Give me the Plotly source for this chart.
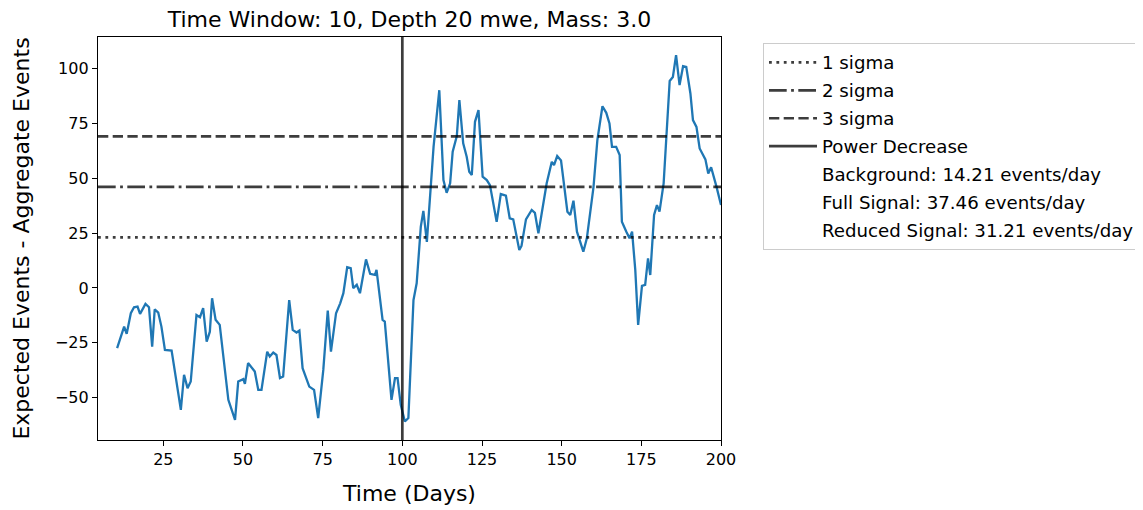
import plotly.graph_objects as go

# ---- data ----
days = [10.5, 11.9, 12.7, 13.5, 14.8, 15.8, 16.9, 17.7, 19.4, 20.5, 21.5, 22.3, 23.4, 24.4,
        25.5, 27.6, 30.5, 31.5, 32.6, 33.6, 35.4, 36.5, 37.5, 38.6, 39.6, 40.3, 41.4, 42.7,
        45.4, 47.5, 48.5, 50.1, 50.6, 51.6, 53.7, 54.8, 55.8, 57.6, 58.4, 59.5, 60.5, 61.6,
        62.6, 64.5, 65.6, 66.8, 67.7, 68.7, 70.8, 72.3, 73.6, 75.2, 76.6, 77.6, 79.2, 80.5,
        81.5, 82.7, 83.8, 84.6, 85.7, 86.7, 87.6, 88.6, 89.9, 91.4, 91.9, 93.8, 94.5, 96.6,
        97.7, 98.5, 99.5, 100.8, 101.9, 103.5, 104.5, 105.8, 106.6, 107.7, 109.8, 111.6,
        112.9, 113.9, 115.0, 115.8, 117.1, 117.9, 119.1, 120.2, 121.0, 121.8, 122.8, 123.9,
        125.2, 126.5, 127.5, 129.6, 130.9, 132.5, 133.7, 134.8, 136.7, 137.4, 138.8, 140.6,
        141.6, 142.7, 145.3, 146.9, 147.6, 148.6, 149.8, 150.6, 151.8, 152.7, 153.7, 154.8,
        156.8, 157.9, 160.0, 161.2, 162.8, 164.0, 165.0, 165.8, 167.1, 168.2, 168.9, 170.3,
        171.3, 172.1, 173.1, 174.0, 175.2, 176.2, 177.1, 177.8, 179.0, 179.9, 180.7, 182.0,
        183.0, 183.9, 184.9, 185.9, 187.0, 188.1, 189.1, 190.4, 191.2, 192.3, 193.3, 195.1,
        196.0, 196.9, 198.6, 200.0]
diff_events = [-27.4, -20.6, -17.6, -20.9, -11.5, -8.8, -8.5, -11.8, -7.3, -8.8, -26.7, -9.7,
               -11.2, -17.6, -28.2, -28.5, -55.5, -39.5, -45.6, -42.6, -12.3, -13.3, -9.2,
               -24.4, -19.9, -4.7, -14.5, -16.8, -50.9, -60.0, -42.6, -41.5, -43.6, -34.2,
               -38.0, -46.4, -46.4, -29.0, -31.2, -29.4, -30.5, -41.0, -40.3, -5.5, -19.1,
               -20.3, -19.4, -36.5, -44.9, -46.4, -59.2, -37.3, -10.3, -29.0, -11.5, -7.0,
               -2.4, 9.4, 9.0, -0.1, 1.4, -2.4, 5.9, 13.0, 6.4, 5.9, 8.2, -14.5, -15.3, -50.9,
               -41.0, -41.0, -53.2, -60.8, -59.2, -5.5, 2.1, 27.9, 35.1, 21.0, 64.2, 90.0,
               49.1, 43.3, 47.6, 62.0, 69.1, 85.5, 65.8, 59.7, 52.9, 51.4, 75.6, 80.9,
               50.6, 49.1, 46.8, 30.1, 42.7, 42.0, 31.7, 31.2, 17.3, 19.1, 31.2, 35.5,
               34.2, 24.9, 47.6, 57.4, 55.9, 60.0, 58.0, 47.6, 34.7, 33.2, 39.7, 25.6,
               16.5, 22.6, 46.0, 67.3, 82.7, 79.7, 74.9, 64.2, 64.2, 60.5, 30.1, 25.6,
               22.6, 25.6, 8.2, -16.8, 0.9, 1.4, 13.5, 5.9, 33.2, 37.7, 34.7, 47.6,
               73.3, 94.2, 96.0, 105.9, 92.3, 100.9, 100.6, 88.5, 76.4, 73.3, 63.5, 58.5,
               52.1, 54.9, 46.0, 37.7]

sigma_names = ["1 sigma", "2 sigma", "3 sigma"]
sigma_levels = [23.0, 46.0, 69.0]
power_decrease_day = 100
info_labels = ["Background: 14.21 events/day",
               "Full Signal: 37.46 events/day",
               "Reduced Signal: 31.21 events/day"]
x_ticks = [25, 50, 75, 100, 125, 150, 175, 200]
y_ticks = [-50, -25, 0, 25, 50, 75, 100]

X_RANGE = [4.5, 200]
Y_RANGE = [-69.2, 114.2]

FONT = "DejaVu Sans"
GREY = "rgba(0,0,0,0.76)"
dashes = ["2.8px,4.6px", "17.7px,4.4px,2.8px,4.4px", "10.3px,4.4px"]

# the page body adds an 8px margin, so the figure is sized/offset to compensate
W, H = 1135, 502
L, R, T, B = 90, 713, 29, 432

fig = go.Figure()

fig.add_trace(go.Scatter(x=days, y=diff_events, mode="lines",
                         line=dict(color="#1f77b4", width=2.3),
                         showlegend=False, hoverinfo="x+y"))

for i, (name, lvl) in enumerate(zip(sigma_names, sigma_levels)):
    fig.add_trace(go.Scatter(x=X_RANGE, y=[lvl, lvl], mode="lines", name=name,
                             legendgroup=f"g{i}",
                             line=dict(color=GREY, width=2.7, dash=dashes[i])))

fig.add_trace(go.Scatter(x=[power_decrease_day, power_decrease_day], y=Y_RANGE,
                         mode="lines", name="Power Decrease", legendgroup="g3",
                         line=dict(color=GREY, width=2.7)))

for j, lab in enumerate(info_labels):
    fig.add_trace(go.Scatter(x=[None], y=[None], mode="lines", name=lab,
                             legendgroup=f"g{4 + j}",
                             line=dict(color="rgba(0,0,0,0)", width=2)))

axis_common = dict(showline=True, linecolor="black", linewidth=1.3, mirror=True,
                   ticks="outside", ticklen=5, tickwidth=1.3, tickcolor="black",
                   showgrid=False, zeroline=False, automargin=False,
                   tickfont=dict(family=FONT, size=16, color="black"))

fig.update_xaxes(range=X_RANGE, tickvals=x_ticks, **axis_common,
                 title=dict(text="Time (Days)", font=dict(family=FONT, size=22, color="black"),
                            standoff=17))
fig.update_yaxes(range=Y_RANGE, tickvals=y_ticks, **axis_common,
                 title=dict(text="Expected Events - Aggregate Events",
                            font=dict(family=FONT, size=22, color="black"), standoff=19))

plot_h = B - T
fig.update_layout(
    width=W, height=H,
    margin=dict(l=L, r=W - R, t=T, b=H - B, autoexpand=False),
    paper_bgcolor="white", plot_bgcolor="white",
    title=dict(text="Time Window: 10, Depth 20 mwe, Mass: 3.0",
               font=dict(family=FONT, size=22, color="black"), automargin=False,
               x=(L + R) / 2 / W, xanchor="center", y=1 - 11 / H, yanchor="middle"),
    legend=dict(x=(755 - L) / (R - L), y=1 - 6 / plot_h, xanchor="left", yanchor="top",
                font=dict(family=FONT, size=18.2, color="black"),
                bgcolor="white", bordercolor="#cccccc", borderwidth=1,
                itemwidth=48, tracegroupgap=1.3, traceorder="grouped"),
    showlegend=True,
)

fig.write_html("out.html")
